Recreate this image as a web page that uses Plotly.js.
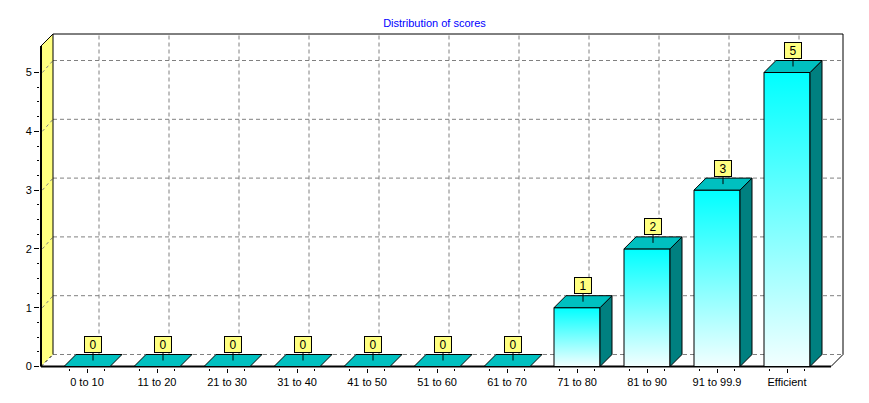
<!DOCTYPE html>
<html><head><meta charset="utf-8">
<script src="https://cdn.plot.ly/plotly-3.0.1.min.js"></script>
<style>html,body{margin:0;padding:0;background:#fff}#chart{width:869px;height:403px}</style>
</head><body><div id="chart"></div>
<script>
// ---- data ----
const categories = ["0 to 10","11 to 20","21 to 30","31 to 40","41 to 50","51 to 60","61 to 70","71 to 80","81 to 90","91 to 99.9","Efficient"];
const scores = [0,0,0,0,0,0,0,1,2,3,5];
const yTickVals = [0,1,2,3,4,5];
const chartTitle = "Distribution of scores";

// ---- geometry (pixels) ----
const W = 869, H = 403;
const M = {l:40, r:24, t:33, b:35};
const PX_X = 70, PX_Y = 58.8;      // pixels per unit
const CAT0_PX = 87, ZERO_PX = 366.5;
const px2x = p => (p - CAT0_PX) / PX_X;
const px2y = p => (ZERO_PX - p) / PX_Y;
const xRange = [px2x(M.l), px2x(W - M.r)];
const yRange = [px2y(H - M.b), px2y(M.t)];
const DX = 12 / PX_X, DY = 12 / PX_Y;   // 3D depth
const XL = px2x(41), XR = px2x(843), YT = px2y(34);
const HW = 23 / PX_X;                    // half bar width
const FONT = "Liberation Sans, Arial, sans-serif";

// ---- traces (bars drawn as 3D polygons) ----
const traces = [];
const poly = (xs, ys, fill, extra) => Object.assign({
  type:'scatter', mode:'lines', x:xs, y:ys, fill:'toself', fillcolor:fill,
  line:{color:'#000', width:1}, hoverinfo:'skip', showlegend:false
}, extra || {});
categories.forEach((c, i) => {
  const v = scores[i];
  if (v > 0) {
    traces.push(poly([i-HW,i+HW,i+HW,i-HW,i-HW],[0,0,v,v,0],'#00FFFF',
      {fillgradient:{type:'vertical', start:0, stop:v, colorscale:[[0,'#F2FFFF'],[1,'#00FFFF']]}}));
    traces.push(poly([i+HW,i+HW+DX,i+HW+DX,i+HW,i+HW],[0,DY,v+DY,v,0],'#008080'));
    traces.push(poly([i-HW,i+HW,i+HW+DX,i-HW+DX,i-HW],[v,v,v+DY,v+DY,v],'#00C0C0'));
  } else {
    traces.push(poly([i-HW,i+HW,i+HW+DX,i-HW+DX,i-HW],[0,0,DY,DY,0],'#00C0C0'));
  }
});

// ---- shapes: back wall grid, left wall, floor, frame ----
const shapes = [];
const line = (x0,y0,x1,y1,st) => shapes.push(Object.assign({type:'line', xref:'x', yref:'y', layer:'below', x0, y0, x1, y1}, {line:st}));
const grid = {color:'#808080', width:1, dash:'4px,3px'};
yTickVals.forEach(v => line(XL+DX, v+DY, XR, v+DY, grid));
categories.forEach((c,i) => line(i+DX, DY, i+DX, YT, grid));
shapes.push({type:'path', xref:'x', yref:'y', layer:'below',
  path:`M${XL},0 L${XL},${YT-DY} L${XL+DX},${YT} L${XL+DX},${DY} Z`,
  fillcolor:'#FFFF80', line:{width:0}});
shapes.push({type:'path', xref:'x', yref:'y', layer:'below',
  path:`M${XL},0 L${XR-DX},0 L${XR},${DY} L${XL+DX},${DY} Z`,
  fillcolor:'#FFFFFF', line:{width:0}});
line(XL+DX, DY, XR, DY, grid);
yTickVals.filter(v => v > 0).forEach(v => line(XL+0.02, v, XL+DX, v+DY, {color:'#808080', width:1, dash:'dot'}));
const blk = {color:'#000', width:1};
line(XL, 0, XL, YT-DY, {color:'#000', width:2});
line(XL, YT-DY, XL+DX, YT, blk);
line(XL+DX, DY, XL+DX, YT, blk);
line(XL+DX, YT, XR, YT, blk);
line(XR, YT, XR, DY, blk);
line(XR, DY, XR-DX, 0, blk);
line(XL, 0, XL+DX, DY, {color:'#000', width:1, dash:'dot'});
line(XL, 0, XR-DX, 0, {color:'#000', width:2});

// ---- value labels ----
const annotations = categories.map((c,i) => ({
  x: i + DX/2, y: scores[i] + DY/2, xref:'x', yref:'y',
  text: String(scores[i]), showarrow:true, arrowhead:0, arrowwidth:1, arrowcolor:'#000',
  ax:0, ay:-16, standoff:0, bgcolor:'#FFFF80', bordercolor:'#000', borderwidth:1, borderpad:1,
  width:14, height:13, font:{family:FONT, size:12, color:'#000'}
}));

// ---- ticks ----
const xMinor = [];
categories.forEach((c,i) => { xMinor.push(i-0.25, i+0.25); });
const yMinor = [];
yTickVals.slice(0,-1).forEach(v => { yMinor.push(v+0.25, v+0.5, v+0.75); });

const layout = {
  width:W, height:H, margin:M, paper_bgcolor:'#fff', plot_bgcolor:'#fff',
  showlegend:false, hovermode:false,
  title:{text:chartTitle, font:{family:FONT, size:11, color:'#0000FF'},
    x:0.5, xref:'container', y:1-23/H, yref:'container', yanchor:'middle'},
  xaxis:{range:xRange, tickmode:'array', tickvals:categories.map((c,i)=>i), ticktext:categories,
    ticks:'outside', ticklen:4, tickcolor:'#000', tickwidth:1, showgrid:false, zeroline:false, showline:false,
    tickfont:{family:FONT, size:11, color:'#000'}, fixedrange:true,
    minor:{tickmode:'array', tickvals:xMinor, ticks:'outside', ticklen:2, tickcolor:'#000', showgrid:false}},
  yaxis:{range:yRange, tickmode:'array', tickvals:yTickVals, ticks:'outside', ticklen:5, tickcolor:'#000',
    showgrid:false, zeroline:false, showline:false, tickfont:{family:FONT, size:11, color:'#000'}, fixedrange:true,
    minor:{tickmode:'array', tickvals:yMinor, ticks:'outside', ticklen:2, tickcolor:'#000', showgrid:false}},
  shapes, annotations
};
Plotly.newPlot('chart', traces, layout, {staticPlot:true, displayModeBar:false});
</script></body></html>
